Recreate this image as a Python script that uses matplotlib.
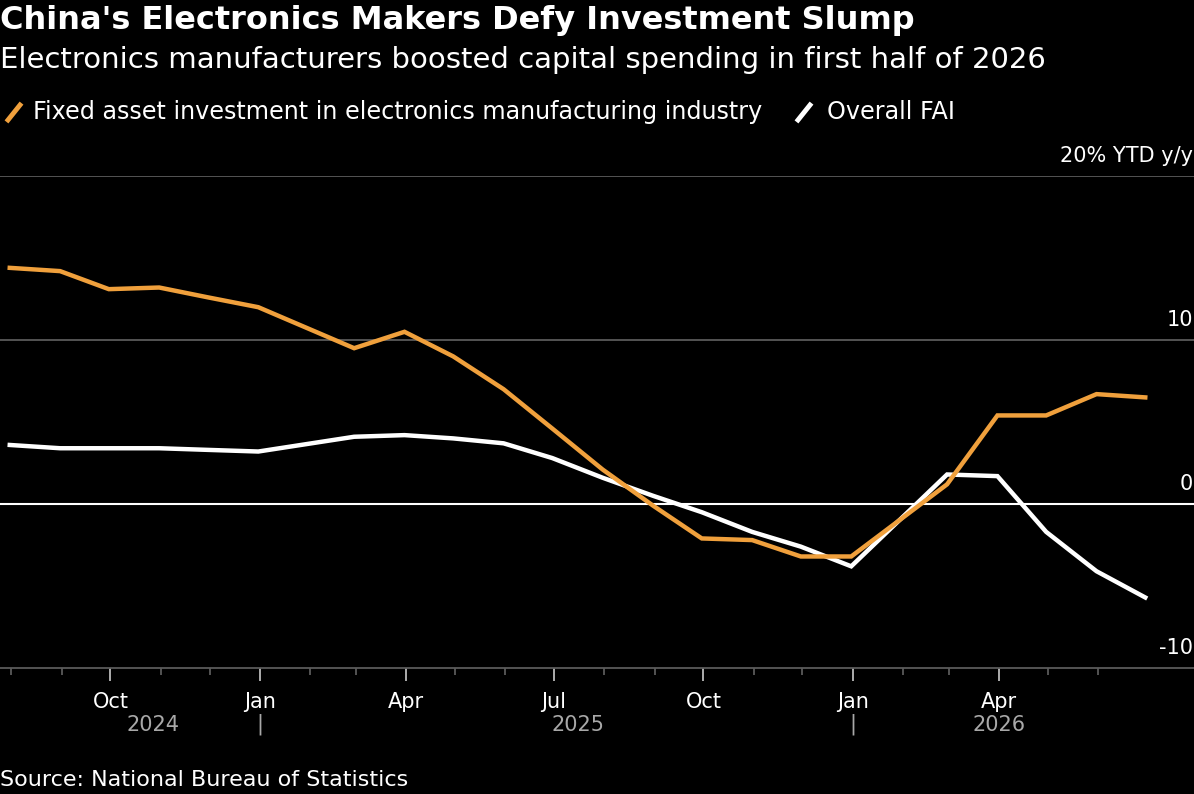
import matplotlib.pyplot as plt
import matplotlib.dates as mdates
import pandas as pd
from matplotlib.lines import Line2D

# monthly YTD y/y % (no January prints; Jan-Feb is reported as Feb)
months = ['2024-07', '2024-08', '2024-09', '2024-10', '2024-11', '2024-12',
          '2025-02', '2025-03', '2025-04', '2025-05', '2025-06', '2025-07',
          '2025-08', '2025-09', '2025-10', '2025-11', '2025-12',
          '2026-02', '2026-03', '2026-04', '2026-05', '2026-06']
electronics = [14.4, 14.2, 13.1, 13.2, 12.6, 12.0,
               9.5, 10.5, 9.0, 7.0, 4.6, 2.1,
               -0.1, -2.1, -2.2, -3.2, -3.2,
               1.2, 5.4, 5.4, 6.7, 6.5]
overall = [3.6, 3.4, 3.4, 3.4, 3.3, 3.2,
           4.1, 4.2, 4.0, 3.7, 2.8, 1.6,
           0.5, -0.5, -1.7, -2.6, -3.8,
           1.8, 1.7, -1.7, -4.1, -5.7]
y_ticks = [20, 10, 0, -10]
y_labels = ['20% YTD y/y', '10', '0', '-10']
years = ['2024', '2025', '2026']
year_pos = ['2024-10-27', '2025-07-16', '2026-04-01']
year_breaks = ['2025-01-01', '2026-01-01']

ORANGE = '#F0A03C'
GREY = '#5a5a5a'

dates = pd.to_datetime(months) + pd.offsets.MonthEnd(0)
tick_months = pd.date_range('2024-08-01', '2026-06-01', freq='MS')
major_months = [d for d in tick_months if d.month in (1, 4, 7, 10)]

fig = plt.figure(figsize=(11.94, 7.94), dpi=100, facecolor='black')
ax = fig.add_axes([0, 1 - 668 / 794, 1, 492 / 794], facecolor='black')

ax.plot(dates, overall, color='white', lw=3.2, solid_joinstyle='miter', zorder=3)
ax.plot(dates, electronics, color=ORANGE, lw=3.2, solid_joinstyle='miter', zorder=4)

ax.set_xlim(pd.Timestamp('2024-07-25'), pd.Timestamp('2026-07-30'))
ax.set_ylim(-10, 20)

for v in y_ticks[:-1]:
    ax.axhline(v, color='white' if v == 0 else GREY, lw=1.5 if v == 0 else 1.3, zorder=2)

for v, lab in zip(y_ticks, y_labels):
    ax.text(0.999, v + 0.6, lab, transform=ax.get_yaxis_transform(),
            ha='right', va='bottom', color='white', fontsize=15)

for s in ['top', 'left', 'right']:
    ax.spines[s].set_visible(False)
ax.spines['bottom'].set_color(GREY)
ax.spines['bottom'].set_linewidth(1.3)
ax.set_yticks([])

ax.set_xticks(major_months)
ax.set_xticks([d for d in tick_months if d not in major_months], minor=True)
ax.xaxis.set_major_formatter(mdates.DateFormatter('%b'))
ax.tick_params(axis='x', which='major', length=9, width=1.3, color='#bbbbbb',
               labelcolor='white', labelsize=15, pad=8)
ax.tick_params(axis='x', which='minor', length=5, width=1.3, color=GREY)

for yr, pos in zip(years, year_pos):
    ax.text(pd.Timestamp(pos), -0.115, yr, transform=ax.get_xaxis_transform(),
            ha='center', va='center', color='#a8a8a8', fontsize=15)
for b in year_breaks:
    ax.text(pd.Timestamp(b), -0.115, '|', transform=ax.get_xaxis_transform(),
            ha='center', va='center', color='#a8a8a8', fontsize=15)

fig.text(0.0, 1 - 21 / 794, "China's Electronics Makers Defy Investment Slump",
         ha='left', va='center', color='white', fontsize=23, fontweight='bold')
fig.text(0.0, 1 - 60 / 794, "Electronics manufacturers boosted capital spending in first half of 2026",
         ha='left', va='center', color='white', fontsize=21)

# legend
fig.add_artist(Line2D([8 / 1194, 20 / 1194], [1 - 120 / 794, 1 - 105 / 794],
                      color=ORANGE, lw=3.5, transform=fig.transFigure))
fig.text(33 / 1194, 1 - 112 / 794, "Fixed asset investment in electronics manufacturing industry",
         ha='left', va='center', color='white', fontsize=17.2)
fig.add_artist(Line2D([798 / 1194, 810 / 1194], [1 - 120 / 794, 1 - 105 / 794],
                      color='white', lw=3.5, transform=fig.transFigure))
fig.text(827 / 1194, 1 - 112 / 794, "Overall FAI",
         ha='left', va='center', color='white', fontsize=17.2)

fig.text(0.0, 1 - 780 / 794, "Source: National Bureau of Statistics",
         ha='left', va='center', color='white', fontsize=16)

fig.savefig('out.png', dpi=100, facecolor='black')
